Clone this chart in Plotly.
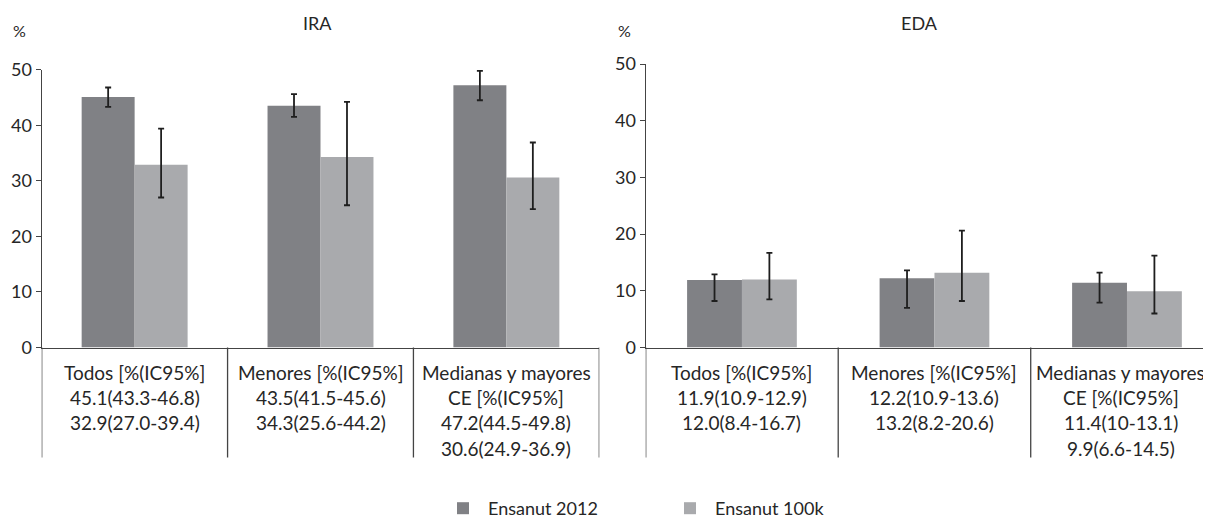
import plotly.graph_objects as go

# ---------------- data ----------------
categories = ["Todos", "Menores", "Medianas y mayores CE"]
series_names = ["Ensanut 2012", "Ensanut 100k"]

ira_2012 = [45.1, 43.5, 47.2]
ira_2012_low = [43.3, 41.5, 44.5]
ira_2012_high = [46.8, 45.6, 49.8]
ira_100k = [32.9, 34.3, 30.6]
ira_100k_low = [27.0, 25.6, 24.9]
ira_100k_high = [39.4, 44.2, 36.9]

eda_2012 = [11.9, 12.2, 11.4]
eda_2012_low = [8.2, 7.0, 7.9]      # as drawn in the picture
eda_2012_high = [12.9, 13.6, 13.2]
eda_100k = [12.0, 13.2, 9.9]
eda_100k_low = [8.5, 8.2, 6.0]
eda_100k_high = [16.7, 20.6, 16.2]

ira_labels = [
    ["Todos [%(IC95%]", "45.1(43.3-46.8)", "32.9(27.0-39.4)"],
    ["Menores [%(IC95%]", "43.5(41.5-45.6)", "34.3(25.6-44.2)"],
    ["Medianas y mayores", "CE [%(IC95%]", "47.2(44.5-49.8)", "30.6(24.9-36.9)"],
]
eda_labels = [
    ["Todos [%(IC95%]", "11.9(10.9-12.9)", "12.0(8.4-16.7)"],
    ["Menores [%(IC95%]", "12.2(10.9-13.6)", "13.2(8.2-20.6)"],
    ["Medianas y mayores", "CE [%(IC95%]", "11.4(10-13.1)", "9.9(6.6-14.5)"],
]
y_ticks = [0, 10, 20, 30, 40, 50]

# ---------------- style ----------------
W, H = 1211, 519
OX, OY = 8, 8          # page body margin
FONT = "Lato"
TXT = "#262626"
AX = "#444444"
C2012 = "#808185"
C100K = "#a9aaad"
ERR = "#1e1e1e"

x = [0, 1, 2]


def err(vals, lo, hi):
    return dict(type="data", symmetric=False,
                array=[h - v for v, h in zip(vals, hi)],
                arrayminus=[v - l for v, l in zip(vals, lo)],
                color=ERR, thickness=1.8, width=3)


fig = go.Figure()
panels = [
    ("x", "y", ira_2012, ira_2012_low, ira_2012_high, ira_100k, ira_100k_low, ira_100k_high, True),
    ("x2", "y2", eda_2012, eda_2012_low, eda_2012_high, eda_100k, eda_100k_low, eda_100k_high, False),
]
for xa, ya, v1, l1, h1, v2, l2, h2, leg in panels:
    fig.add_trace(go.Bar(x=x, y=v1, name=series_names[0], marker_color=C2012,
                         marker_line_width=0, error_y=err(v1, l1, h1),
                         xaxis=xa, yaxis=ya, showlegend=leg, legendgroup="a"))
    fig.add_trace(go.Bar(x=x, y=v2, name=series_names[1], marker_color=C100K,
                         marker_line_width=0, error_y=err(v2, l2, h2),
                         xaxis=xa, yaxis=ya, showlegend=leg, legendgroup="b"))


def px(p):
    return (p - OX) / W


def py(p):
    return (H - (p - OY)) / H


y0 = py(347.5)
ybot = py(457.5)

axis_common = dict(showgrid=False, zeroline=False, showline=True, linecolor=AX, linewidth=1.3)
xcommon = dict(axis_common, showticklabels=False, ticks="", fixedrange=True)
ycommon = dict(axis_common, range=[0, 50], tickvals=y_ticks, ticks="outside", ticklen=5,
               tickcolor=AX, tickwidth=1.2, tickfont=dict(family=FONT, size=18, color=TXT))

fig.update_layout(
    width=W, height=H,
    margin=dict(l=0, r=0, t=0, b=0, autoexpand=False),
    paper_bgcolor="white", plot_bgcolor="white",
    barmode="group", bargap=0.43, bargroupgap=0,
    font=dict(family=FONT, color=TXT),
    xaxis=dict(xcommon, domain=[px(41.7), px(599.3)], range=[-0.5, 2.5], anchor="y"),
    yaxis=dict(ycommon, domain=[y0, py(69.7)], anchor="x"),
    xaxis2=dict(xcommon, domain=[px(645.7), 1.0], range=[-0.5, 2.478], anchor="y2"),
    yaxis2=dict(ycommon, domain=[y0, py(64)], anchor="x2"),
    legend=dict(orientation="h", x=px(438), y=0, xanchor="left", yanchor="bottom",
                font=dict(family=FONT, size=18, color=TXT), entrywidth=172,
                itemwidth=40, bgcolor="rgba(0,0,0,0)"),
)

shapes = []
annotations = []
for xa, labels in (("x", ira_labels), ("x2", eda_labels)):
    # table vertical lines (cell boundaries), from the zero line down
    for b in [-0.5, 0.5, 1.5, 2.5]:
        shapes.append(dict(type="line", xref=xa, yref="paper", x0=b, x1=b, y0=y0, y1=ybot,
                           line=dict(color=AX, width=1.3)))
    for i, lines in enumerate(labels):
        shift = -6 if (xa == "x2" and i == 2) else 0
        for k, t in enumerate(lines):
            annotations.append(dict(xref=xa, yref="paper", x=i, y=py(372.3 + 25.3 * k),
                                    text=t, showarrow=False, xanchor="center", yanchor="middle",
                                    xshift=shift, font=dict(family=FONT, size=19, color=TXT)))

# titles and unit labels
annotations += [
    dict(xref="paper", yref="paper", x=px(318), y=py(23), text="IRA", showarrow=False,
         font=dict(family=FONT, size=18, color=TXT), xanchor="center", yanchor="middle"),
    dict(xref="paper", yref="paper", x=px(919.6), y=py(23), text="EDA", showarrow=False,
         font=dict(family=FONT, size=18, color=TXT), xanchor="center", yanchor="middle"),
    dict(xref="paper", yref="paper", x=px(19), y=py(30), text="%", showarrow=False,
         font=dict(family=FONT, size=16, color=TXT), xanchor="center", yanchor="middle"),
    dict(xref="paper", yref="paper", x=px(624), y=py(30), text="%", showarrow=False,
         font=dict(family=FONT, size=16, color=TXT), xanchor="center", yanchor="middle"),
]

fig.update_layout(shapes=shapes, annotations=annotations)
fig.write_html("out.html")
